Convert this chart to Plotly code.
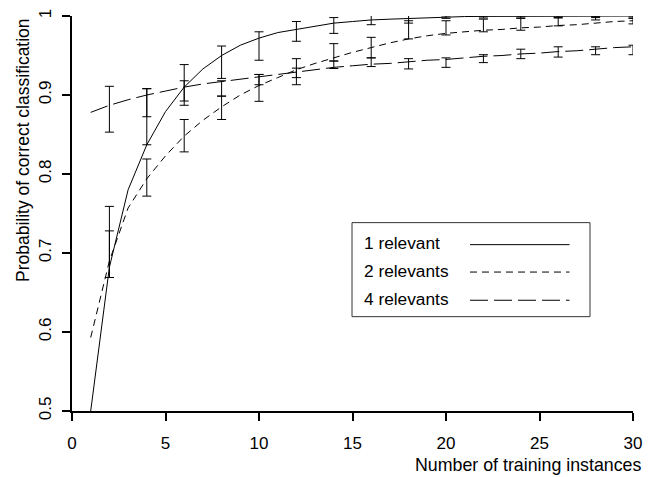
import plotly.graph_objects as go

# ---- data -------------------------------------------------------------
x_curve = list(range(1, 31))
rel1_curve = [0.500, 0.682, 0.780, 0.837, 0.879, 0.910, 0.933, 0.950, 0.963, 0.972,
              0.979, 0.983, 0.987, 0.991, 0.993, 0.995, 0.996, 0.997, 0.998, 0.999,
              0.9993, 0.9995, 0.9996, 0.9997, 0.9998, 0.9998, 0.9999, 0.9999, 1.0, 1.0]
rel2_curve = [0.593, 0.690, 0.757, 0.794, 0.823, 0.848, 0.868, 0.885, 0.900, 0.912,
              0.922, 0.932, 0.940, 0.947, 0.954, 0.960, 0.966, 0.971, 0.975, 0.978,
              0.980, 0.982, 0.983, 0.985, 0.986, 0.988, 0.989, 0.991, 0.993, 0.994]
rel4_curve = [0.878, 0.887, 0.894, 0.900, 0.905, 0.910, 0.914, 0.917, 0.920, 0.923,
              0.926, 0.929, 0.932, 0.935, 0.937, 0.939, 0.940, 0.942, 0.944, 0.945,
              0.947, 0.949, 0.950, 0.952, 0.953, 0.955, 0.956, 0.958, 0.960, 0.961]

x_err = list(range(2, 31, 2))
rel1_lo = [0.669, 0.837, 0.887, 0.921, 0.944, 0.968, 0.978, 0.989, 0.991, 0.997,
           0.9975, 0.9975, 0.9975, 0.998, 0.9975]
rel1_hi = [0.759, 0.908, 0.9385, 0.962, 0.980, 0.993, 0.998, 1.0025, 1.003, 1.0,
           1.0, 1.0, 1.0, 1.0, 1.0]
rel2_lo = [0.669, 0.772, 0.828, 0.869, 0.892, 0.922, 0.943, 0.947, 0.971, 0.976,
           0.980, 0.982, 0.9875, 0.995, 0.990]
rel2_hi = [0.728, 0.819, 0.869, 0.8986, 0.926, 0.946, 0.965, 0.973, 0.994, 0.994,
           0.996, 0.997, 0.998, 0.999, 0.997]
rel4_lo = [0.853, 0.8725, 0.8924, 0.8986, 0.913, 0.913, 0.9335, 0.936, 0.933, 0.935,
           0.941, 0.946, 0.948, 0.951, 0.951]
rel4_hi = [0.911, 0.908, 0.918, 0.918, 0.926, 0.934, 0.943, 0.947, 0.946, 0.947,
           0.951, 0.958, 0.961, 0.961, 0.963]

series_names = ["1 relevant", "2 relevants", "4 relevants"]
x_ticks = [0, 5, 10, 15, 20, 25, 30]
y_ticks = [0.5, 0.6, 0.7, 0.8, 0.9, 1.0]
y_ticktext = ["0.5", "0.6", "0.7", "0.8", "0.9", "1"]

# ---- style --------------------------------------------------------------
FONT = "Liberation Sans, Arial, Helvetica, sans-serif"
dashes = ["solid", "7px,5px", "18px,6px"]
curves = [rel1_curve, rel2_curve, rel4_curve]
los = [rel1_lo, rel2_lo, rel4_lo]
his = [rel1_hi, rel2_hi, rel4_hi]

fig = go.Figure()
for name, c, d in zip(series_names, curves, dashes):
    fig.add_trace(go.Scatter(x=x_curve, y=c, mode="lines", name=name,
                             line=dict(color="black", width=1, dash=d),
                             showlegend=False, hoverinfo="skip"))
for name, lo, hi in zip(series_names, los, his):
    mid = [(a + b) / 2 for a, b in zip(lo, hi)]
    half = [(b - a) / 2 for a, b in zip(lo, hi)]
    fig.add_trace(go.Scatter(x=x_err, y=mid, mode="markers", name=name,
                             marker=dict(color="rgba(0,0,0,0)", size=1),
                             error_y=dict(type="data", array=half, visible=True,
                                          color="black", thickness=1, width=4.5),
                             cliponaxis=False, showlegend=False, hoverinfo="skip"))

# ---- legend box (drawn by hand: text left, line sample right) ----------
L, R, T, B = 72, 19, 9, 66
W, H = 652 - L - R, 477 - T - B
def px(x):
    return (x - L) / W
def py(y):
    return (477 - B - y) / H

shapes = [dict(type="rect", xref="paper", yref="paper",
               x0=px(352), x1=px(590), y0=py(315), y1=py(219.3),
               line=dict(color="#333333", width=1), fillcolor="white", layer="above")]
annotations = []
row_line_y = [241.7, 269.6, 298.3]
row_text_y = [240.0, 268.5, 296.8]
for name, d, ly, ty in zip(series_names, dashes, row_line_y, row_text_y):
    shapes.append(dict(type="line", xref="paper", yref="paper",
                       x0=px(470), x1=px(569.5), y0=py(ly), y1=py(ly),
                       line=dict(color="black", width=1, dash=d), layer="above"))
    annotations.append(dict(text=name, xref="paper", yref="paper",
                            x=px(362), y=py(ty), xanchor="left", yanchor="middle",
                            showarrow=False, font=dict(family=FONT, size=17.3, color="black")))

annotations.append(dict(text="Probability of correct classification", textangle=-90,
                        xref="paper", yref="paper", x=px(23), y=py(9),
                        xanchor="center", yanchor="top", showarrow=False,
                        font=dict(family=FONT, size=17.5, color="black")))
annotations.append(dict(text="Number of training instances",
                        xref="paper", yref="paper", x=px(642), y=py(466),
                        xanchor="right", yanchor="middle", showarrow=False, borderpad=0,
                        font=dict(family=FONT, size=17.8, color="black")))

fig.update_layout(
    width=652, height=477,
    margin=dict(l=L, r=R, t=T, b=B, pad=0),
    paper_bgcolor="white", plot_bgcolor="white",
    font=dict(family=FONT, size=17, color="black"),
    shapes=shapes, annotations=annotations,
    showlegend=False,
    xaxis=dict(range=[0, 30], tickvals=x_ticks, ticks="outside", ticklen=8,
               tickwidth=1.5, tickcolor="black", showline=True, linecolor="black",
               linewidth=1.5, showgrid=False, zeroline=False, ticklabelstandoff=8,
               tickfont=dict(family=FONT, size=17)),
    yaxis=dict(range=[0.5, 1.0], tickvals=y_ticks, ticktext=y_ticktext,
               tickangle=-90, ticks="outside", ticklen=8, tickwidth=1.5,
               tickcolor="black", showline=True, linecolor="black", linewidth=1.5,
               showgrid=False, zeroline=False, ticklabelstandoff=4,
               tickfont=dict(family=FONT, size=17)),
)

fig.write_html(
    "out.html",
    config={"displayModeBar": False},
    post_script="document.body.style.margin='0';document.body.style.overflow='hidden';",
)
